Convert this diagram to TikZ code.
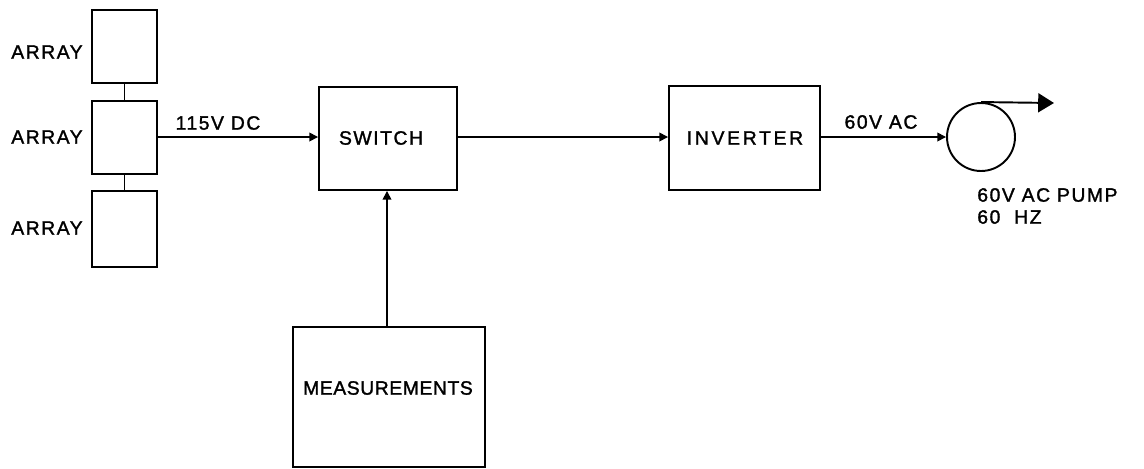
\documentclass[tikz,border=0pt]{standalone}
\usepackage{fontspec}
\setmainfont{Liberation Sans}[LetterSpace=8,FakeBold=1.5]
\usetikzlibrary{arrows.meta}
\begin{document}
\begin{tikzpicture}[x=0.02cm,y=-0.02cm,
  blk/.style={draw,line width=1.1pt,rectangle,inner sep=0pt},
  conn/.style={line width=0.9pt,-{Triangle[length=5pt,width=5pt]}},
  lnk/.style={line width=0.9pt},
  lbl/.style={inner sep=0pt,font=\fontsize{11}{13}\selectfont}]
\useasboundingbox (0,0) rectangle (1144,468);
% array boxes
\node[blk,minimum width=1.3cm,minimum height=1.46cm] (a1) at (124.5,46.5) {};
\node[blk,minimum width=1.3cm,minimum height=1.46cm] (a2) at (124.5,137.5) {};
\node[blk,minimum width=1.3cm,minimum height=1.52cm] (a3) at (124.5,229) {};
\draw[lnk] (a1.south) -- (a2.north);
\draw[lnk] (a2.south) -- (a3.north);
\node[lbl] (t1) at (47,52) {ARRAY};
\node[lbl] (t2) at (47,137) {ARRAY};
\node[lbl] (t3) at (47,228) {ARRAY};
% switch
\node[blk,minimum width=2.76cm,minimum height=2.06cm] (sw) at (388,138.5) {};
\node[lbl] (swt) at (381,138) {SWITCH};
% inverter
\node[blk,minimum width=3.02cm,minimum height=2.08cm] (inv) at (744.5,138) {};
\node[lbl,font=\fontsize{11}{13}\selectfont\addfontfeature{LetterSpace=14}] (invt) at (745,138) {INVERTER};
% measurements
\node[blk,minimum width=3.84cm,minimum height=2.8cm] (meas) at (389,397) {};
\node[lbl,font=\fontsize{11}{13}\selectfont\addfontfeature{LetterSpace=3}] (meast) at (388,388) {MEASUREMENTS};
% pump
\node[draw,circle,line width=1.1pt,minimum size=1.36cm,inner sep=0pt] (p) at (981,137) {};
\coordinate (ptip) at (1054,103);
% connectors
\draw[conn] (a2.east |- 0,137) -- (sw.west |- 0,137);
\draw[conn] (sw.east |- 0,137) -- (inv.west |- 0,137);
\draw[conn] (inv.east |- 0,137) -- (p.west);
\draw[conn] (meas.north -| 387,0) -- (sw.south -| 387,0);
\draw[line width=1.1pt,-{Triangle[length=9pt,width=10.8pt]}] (p.north) -- (ptip);
% labels
\node[lbl] (l1) at (218,123) {115V DC};
\node[lbl] (l2) at (881,122) {60V AC};
\node[lbl,anchor=west] (l3) at (977,195) {60V AC PUMP};
\node[lbl,anchor=west] (l4) at (977,217) {60\ \ HZ};
\end{tikzpicture}
\end{document}
